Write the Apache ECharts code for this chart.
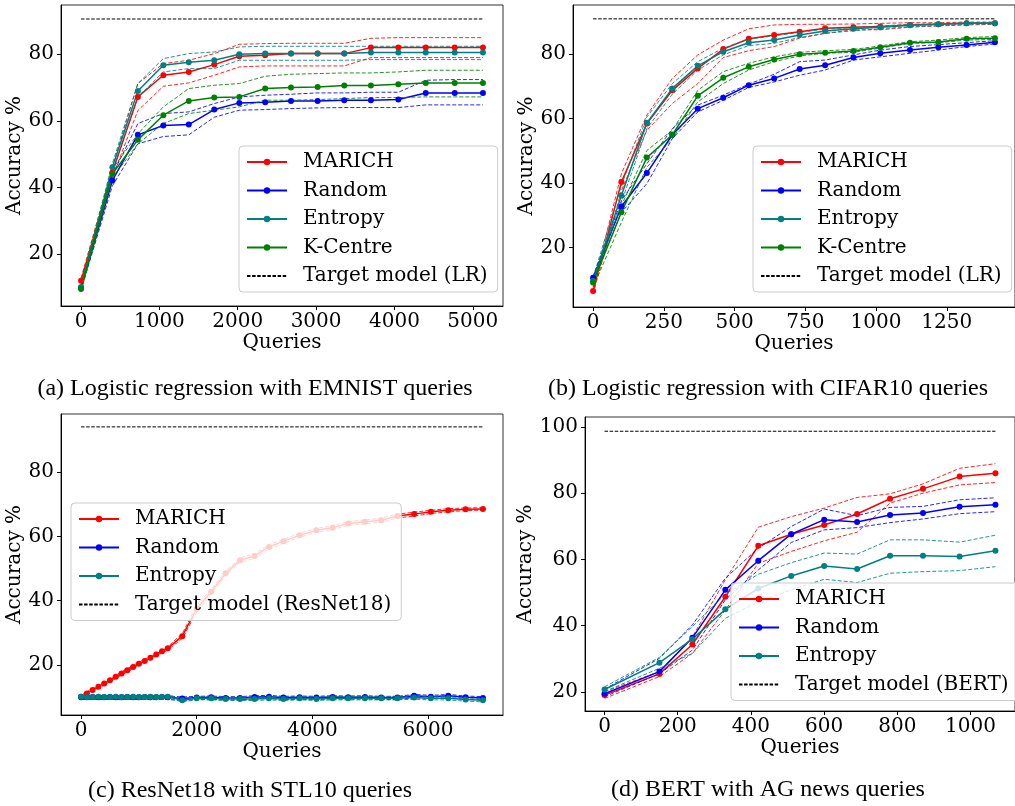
<!DOCTYPE html>
<html>
<head>
<meta charset="utf-8">
<script src="https://cdn.jsdelivr.net/npm/echarts@6/dist/echarts.min.js"></script>
<style>html,body{margin:0;padding:0;background:#fff}#chart{width:1015px;height:806px}</style>
</head>
<body>
<div id="chart"></div>
<script>
// ---------- (a) Logistic regression with EMNIST queries ----------
const aQueries = [0, 400, 725, 1050, 1375, 1700, 2020, 2350, 2680, 3020, 3360, 3700, 4050, 4400, 4770, 5130];
const aMarich    = [12.0, 44.6, 67.2, 73.7, 74.7, 76.9, 79.4, 79.7, 80.2, 80.2, 80.2, 82.0, 82.0, 82.0, 82.0, 82.0];
const aMarichHi  = [12.8, 46.0, 71.2, 77.2, 78.2, 80.2, 83.0, 83.2, 83.3, 83.3, 83.3, 84.8, 85.0, 85.0, 85.0, 85.0];
const aMarichLo  = [11.2, 43.0, 63.1, 70.4, 71.4, 73.7, 76.2, 76.5, 76.5, 76.5, 76.5, 79.0, 79.0, 79.0, 79.0, 79.0];
const aRandom    = [9.9, 42.1, 55.8, 58.6, 58.9, 63.4, 65.4, 65.6, 66.0, 66.0, 66.2, 66.2, 66.4, 68.4, 68.4, 68.4];
const aRandomHi  = [10.6, 43.8, 59.2, 62.2, 62.7, 65.2, 67.2, 67.7, 68.0, 68.4, 68.4, 68.6, 68.6, 72.2, 72.4, 72.4];
const aRandomLo  = [9.2, 40.5, 53.1, 55.3, 55.8, 61.1, 63.2, 63.4, 63.7, 63.9, 64.0, 64.0, 64.0, 64.8, 64.8, 64.8];
const aEntropy   = [10.1, 46.1, 69.0, 76.7, 77.6, 78.2, 80.0, 80.2, 80.2, 80.2, 80.2, 80.5, 80.5, 80.5, 80.5, 80.5];
const aEntropyHi = [10.9, 47.2, 71.2, 78.7, 80.2, 80.7, 82.2, 82.4, 82.4, 82.4, 82.4, 82.4, 82.4, 82.4, 82.4, 82.4];
const aEntropyLo = [9.3, 45.0, 67.2, 74.7, 75.7, 75.7, 78.2, 78.2, 78.2, 78.2, 78.2, 78.4, 78.4, 78.4, 78.4, 78.4];
const aKCentre   = [9.5, 44.1, 54.3, 61.7, 66.0, 67.0, 67.2, 69.7, 70.0, 70.2, 70.6, 70.6, 71.0, 71.4, 71.4, 71.4];
const aKCentreHi = [10.2, 45.5, 56.1, 64.2, 69.7, 70.7, 71.2, 73.4, 74.0, 74.2, 74.4, 74.4, 74.7, 75.2, 75.2, 75.2];
const aKCentreLo = [8.8, 42.8, 53.1, 59.2, 62.2, 63.2, 64.2, 66.2, 66.2, 66.4, 66.7, 67.0, 67.0, 67.2, 67.2, 67.2];
const aTarget = 90.6;
const aXTicks = [0, 1000, 2000, 3000, 4000, 5000];
const aYTicks = [20, 40, 60, 80];

// ---------- (b) Logistic regression with CIFAR10 queries ----------
const bQueries = [0, 100, 190, 280, 370, 460, 550, 640, 730, 820, 920, 1015, 1120, 1220, 1320, 1420];
const bMarich    = [6.5, 40.3, 58.5, 68.8, 75.6, 81.6, 84.8, 86.0, 87.0, 88.1, 88.4, 88.6, 89.1, 89.3, 89.6, 89.6];
const bMarichHi  = [7.5, 42.9, 61.1, 72.5, 79.8, 84.4, 87.9, 89.1, 89.3, 89.3, 89.4, 89.6, 89.8, 89.8, 90.0, 90.0];
const bMarichLo  = [5.5, 37.6, 56.4, 64.7, 70.9, 79.0, 81.1, 82.4, 85.0, 86.5, 87.6, 87.6, 88.4, 88.8, 89.1, 89.3];
const bRandom    = [10.6, 32.7, 43.1, 55.0, 63.1, 66.5, 70.4, 72.5, 75.4, 76.6, 79.0, 80.3, 81.3, 82.2, 82.9, 83.7];
const bRandomHi  = [11.0, 34.5, 46.0, 56.9, 64.2, 67.3, 70.7, 73.8, 77.7, 78.2, 79.8, 81.3, 82.4, 83.0, 83.6, 84.2];
const bRandomLo  = [9.6, 30.9, 39.8, 53.8, 62.1, 65.7, 69.7, 71.4, 73.5, 75.1, 78.2, 79.2, 80.3, 81.3, 82.4, 83.2];
const bEntropy   = [9.6, 36.1, 58.7, 69.4, 76.4, 80.8, 83.6, 84.4, 86.0, 87.2, 87.9, 88.4, 89.0, 89.3, 89.6, 89.6];
const bEntropyHi = [10.7, 39.2, 60.5, 70.9, 77.7, 81.9, 84.7, 85.7, 86.8, 87.8, 88.3, 88.8, 89.3, 89.5, 89.8, 89.9];
const bEntropyLo = [8.6, 34.0, 56.9, 67.6, 75.1, 79.8, 82.7, 83.4, 85.2, 86.5, 87.3, 87.9, 88.6, 88.9, 89.3, 89.4];
const bKCentre   = [9.1, 30.9, 47.9, 55.0, 67.1, 72.7, 76.1, 78.4, 80.0, 80.5, 81.0, 82.2, 83.6, 83.8, 84.8, 85.0];
const bKCentreHi = [10.1, 33.0, 50.1, 56.4, 68.8, 74.6, 77.2, 79.2, 80.6, 81.1, 81.5, 82.6, 83.9, 84.4, 85.2, 85.5];
const bKCentreLo = [7.7, 27.8, 44.9, 53.8, 65.2, 70.9, 75.1, 77.7, 79.5, 80.3, 80.6, 81.9, 83.4, 83.6, 84.4, 84.6];
const bTarget = 91.0;
const bXTicks = [0, 250, 500, 750, 1000, 1250];
const bYTicks = [20, 40, 60, 80];

// ---------- (c) ResNet18 with STL10 queries ----------
const cQueries = [0, 100, 200, 300, 400, 500, 600, 700, 800, 900, 1000, 1100, 1200, 1300, 1400, 1500,
  1750, 2000, 2250, 2500, 2750, 3000, 3250, 3500, 3780, 4070, 4350, 4620, 4910, 5190, 5470, 5760, 6050, 6350, 6650, 6950];
const cMarich   = [10.2, 11.2, 12.3, 13.3, 14.3, 15.3, 16.4, 17.4, 18.4, 19.4, 20.4, 21.3, 22.3, 23.3, 24.3, 25.2,
  29.0, 37.5, 42.8, 48.5, 52.6, 53.9, 56.7, 58.5, 60.3, 61.9, 62.7, 64.0, 64.5, 65.0, 66.3, 66.9, 67.6, 68.1, 68.4, 68.5];
const cMarichHi = [10.6, 11.7, 12.8, 13.8, 14.8, 15.8, 16.9, 17.9, 18.9, 19.9, 20.9, 21.8, 22.8, 23.8, 24.8, 25.7,
  29.8, 38.5, 43.6, 49.2, 53.3, 54.6, 57.4, 59.1, 60.9, 62.5, 63.3, 64.6, 65.1, 65.6, 66.9, 67.5, 68.1, 68.6, 68.8, 68.9];
const cMarichLo = [9.8, 10.8, 11.8, 12.8, 13.8, 14.8, 15.9, 16.9, 17.9, 18.9, 19.9, 20.8, 21.8, 22.8, 23.8, 24.7,
  28.3, 36.5, 42.0, 47.8, 51.9, 53.2, 56.0, 57.9, 59.7, 61.3, 62.1, 63.4, 63.9, 64.4, 65.7, 66.3, 67.1, 67.6, 68.0, 68.1];
const cRandom   = [10.0, 10.0, 10.1, 10.0, 10.0, 10.1, 10.0, 10.0, 10.1, 10.0, 10.0, 10.1, 10.0, 10.0, 10.1, 10.0,
  9.6, 9.9, 10.0, 9.8, 9.8, 10.1, 10.2, 9.9, 10.0, 9.9, 10.1, 10.0, 10.1, 9.9, 9.9, 10.5, 10.2, 10.5, 10.0, 9.8];
const cRandomHi = [10.4, 10.4, 10.5, 10.4, 10.4, 10.5, 10.4, 10.4, 10.5, 10.4, 10.4, 10.5, 10.4, 10.4, 10.5, 10.4,
  10.1, 10.3, 10.4, 10.2, 10.2, 10.5, 10.6, 10.3, 10.4, 10.3, 10.5, 10.4, 10.5, 10.3, 10.3, 10.9, 10.6, 10.9, 10.4, 10.2];
const cRandomLo = [9.3, 9.3, 9.4, 9.3, 9.3, 9.4, 9.3, 9.3, 9.4, 9.3, 9.3, 9.4, 9.3, 9.3, 9.4, 9.3,
  9.0, 9.3, 9.4, 9.2, 9.2, 9.5, 9.6, 9.3, 9.4, 9.3, 9.5, 9.4, 9.5, 9.3, 9.3, 9.9, 9.6, 9.9, 9.4, 9.2];
const cEntropy   = [10.2, 10.1, 10.1, 10.2, 10.1, 10.1, 10.2, 10.1, 10.1, 10.2, 10.1, 10.1, 10.2, 10.1, 10.1, 10.2,
  9.1, 9.7, 9.7, 9.5, 9.5, 9.5, 9.7, 9.5, 9.7, 9.5, 9.7, 9.7, 9.7, 9.7, 9.7, 9.9, 9.7, 9.7, 9.3, 9.1];
const cEntropyHi = [10.6, 10.5, 10.5, 10.6, 10.5, 10.5, 10.6, 10.5, 10.5, 10.6, 10.5, 10.5, 10.6, 10.5, 10.5, 10.7,
  9.6, 10.2, 10.2, 10.0, 10.0, 10.0, 10.2, 10.0, 10.2, 10.0, 10.2, 10.2, 10.2, 10.2, 10.2, 10.4, 10.2, 10.2, 9.8, 9.6];
const cEntropyLo = [9.8, 9.7, 9.7, 9.8, 9.7, 9.7, 9.8, 9.7, 9.7, 9.8, 9.7, 9.7, 9.8, 9.7, 9.7, 9.7,
  8.6, 9.2, 9.2, 9.0, 9.0, 9.0, 9.2, 9.0, 9.2, 9.0, 9.2, 9.2, 9.2, 9.2, 9.2, 9.4, 9.2, 9.2, 8.8, 8.6];
const cTarget = 94.0;
const cXTicks = [0, 2000, 4000, 6000];
const cYTicks = [20, 40, 60, 80];

// ---------- (d) BERT with AG news queries ----------
const dQueries = [0, 150, 240, 330, 420, 510, 600, 690, 780, 870, 970, 1068];
const dMarich    = [19.0, 25.4, 34.3, 48.7, 64.1, 67.6, 70.4, 73.7, 78.3, 81.3, 85.0, 86.0];
const dMarichHi  = [20.0, 26.1, 36.6, 53.8, 69.7, 72.9, 75.5, 78.7, 79.8, 82.8, 87.5, 88.9];
const dMarichLo  = [18.0, 24.6, 31.6, 44.7, 58.8, 62.4, 65.6, 68.2, 77.0, 80.0, 82.5, 83.2];
const dRandom    = [19.4, 26.1, 36.3, 50.8, 59.6, 67.6, 72.0, 71.3, 73.4, 74.0, 75.9, 76.5];
const dRandomHi  = [20.8, 30.1, 40.2, 54.3, 63.4, 69.9, 75.2, 73.2, 75.7, 76.0, 78.0, 78.6];
const dRandomLo  = [18.5, 25.5, 32.6, 47.8, 56.8, 65.1, 68.9, 69.6, 71.1, 72.2, 73.8, 74.4];
const dEntropy   = [20.7, 28.8, 35.9, 44.9, 51.2, 55.0, 58.0, 57.1, 61.1, 61.1, 60.9, 62.6];
const dEntropyHi = [21.5, 30.4, 39.7, 49.5, 55.5, 59.0, 61.9, 61.6, 65.9, 65.9, 65.2, 67.3];
const dEntropyLo = [20.1, 27.1, 31.6, 42.2, 47.2, 50.8, 54.0, 53.0, 55.8, 56.3, 56.6, 57.8];
const dTarget = 98.7;
const dXTicks = [0, 200, 400, 600, 800, 1000];
const dYTicks = [20, 40, 60, 80, 100];

// ---------- texts ----------
const captions = [
  '(a) Logistic regression with EMNIST queries',
  '(b) Logistic regression with CIFAR10 queries',
  '(c) ResNet18 with STL10 queries',
  '(d) BERT with AG news queries'
];
const targetNames = ['Target model (LR)', 'Target model (LR)', 'Target model (ResNet18)', 'Target model (BERT)'];
const xTitle = 'Queries';
const yTitle = 'Accuracy %';

// ---------- building ----------
const SERIF = "'DejaVu Serif', serif";
const CAPFONT = "'Liberation Serif', 'Times New Roman', serif";
const COLORS = { 'MARICH': '#ff0000', 'Random': '#0000ff', 'Entropy': '#008080', 'K-Centre': '#008000' };

const panels = [
  { q: aQueries, methods: [['MARICH', aMarich, aMarichLo, aMarichHi], ['Random', aRandom, aRandomLo, aRandomHi], ['Entropy', aEntropy, aEntropyLo, aEntropyHi], ['K-Centre', aKCentre, aKCentreLo, aKCentreHi]], target: aTarget, xt: aXTicks, yt: aYTicks,
    grid: { left: 61, top: 5, width: 442, height: 301 }, x: [-256, 5386], y: [4.4, 94.8], yGap: 36,
    legend: { left: 239, top: 146 } },
  { q: bQueries, methods: [['MARICH', bMarich, bMarichLo, bMarichHi], ['Random', bRandom, bRandomLo, bRandomHi], ['Entropy', bEntropy, bEntropyLo, bEntropyHi], ['K-Centre', bKCentre, bKCentreLo, bKCentreHi]], target: bTarget, xt: bXTicks, yt: bYTicks,
    grid: { left: 573, top: 5, width: 443, height: 302 }, x: [-71, 1491], y: [1.5, 95.3], yGap: 36,
    legend: { left: 753, top: 146 } },
  { q: cQueries, methods: [['MARICH', cMarich, cMarichLo, cMarichHi], ['Random', cRandom, cRandomLo, cRandomHi], ['Entropy', cEntropy, cEntropyLo, cEntropyHi]], target: cTarget, xt: cXTicks, yt: cYTicks,
    grid: { left: 61, top: 414, width: 442, height: 301 }, x: [-347, 7297], y: [4.5, 98.0], yGap: 36,
    legend: { left: 71, top: 503 } },
  { q: dQueries, methods: [['MARICH', dMarich, dMarichLo, dMarichHi], ['Random', dRandom, dRandomLo, dRandomHi], ['Entropy', dEntropy, dEntropyLo, dEntropyHi]], target: dTarget, xt: dXTicks, yt: dYTicks,
    grid: { left: 585, top: 417, width: 431, height: 294 }, x: [-53.4, 1121.4], y: [14.2, 103.0], yGap: 46,
    legend: { left: 731, top: 583 } }
];

const grids = [], xAxes = [], yAxes = [], series = [], legends = [], graphics = [];
const captionPos = [[255, 389], [768, 389], [250, 791], [768, 790]];
const plain = v => String(v);

panels.forEach((p, gi) => {
  grids.push(Object.assign({ show: true, borderColor: '#333', borderWidth: 1, containLabel: false }, p.grid));
  const axisCommon = {
    axisLine: { show: true, onZero: false, lineStyle: { color: '#000', width: 1 } },
    axisTick: { show: true, length: 4, lineStyle: { color: '#000', width: 1 } },
    axisLabel: { color: '#000', fontFamily: SERIF, fontSize: 20, formatter: plain },
    splitLine: { show: false },
    nameTextStyle: { color: '#000', fontFamily: SERIF, fontSize: 20 }
  };
  xAxes.push(Object.assign({}, axisCommon, {
    type: 'value', gridIndex: gi, min: p.x[0], max: p.x[1],
    name: xTitle, nameLocation: 'middle', nameGap: 27,
    axisTick: Object.assign({}, axisCommon.axisTick, { customValues: p.xt }),
    axisLabel: Object.assign({}, axisCommon.axisLabel, { customValues: p.xt, margin: 6 })
  }));
  yAxes.push(Object.assign({}, axisCommon, {
    type: 'value', gridIndex: gi, min: p.y[0], max: p.y[1],
    name: yTitle, nameLocation: 'middle', nameGap: p.yGap,
    axisTick: Object.assign({}, axisCommon.axisTick, { customValues: p.yt }),
    axisLabel: Object.assign({}, axisCommon.axisLabel, { customValues: p.yt, margin: 7 })
  }));
  const legendData = [];
  p.methods.forEach(([name, mean, lo, hi]) => {
    const c = COLORS[name];
    const pts = arr => p.q.map((x, i) => [x, arr[i]]);
    legendData.push(name);
    series.push({
      name: name, type: 'line', xAxisIndex: gi, yAxisIndex: gi, data: pts(mean),
      symbol: 'circle', symbolSize: 6, lineStyle: { color: c, width: 1.5 }, itemStyle: { color: c },
      animation: false, silent: true, z: 2
    });
    [lo, hi].forEach((band, bi) => series.push({
      name: name + (bi ? ' upper ' : ' lower ') + gi, type: 'line', xAxisIndex: gi, yAxisIndex: gi, data: pts(band),
      symbol: 'none', lineStyle: { color: c, width: 1, type: [4, 2], opacity: 0.85 },
      animation: false, silent: true, z: 2
    }));
  });
  const tName = targetNames[gi];
  legendData.push({ name: tName, itemStyle: { opacity: 0 } });
  series.push({
    name: tName, type: 'line', xAxisIndex: gi, yAxisIndex: gi,
    data: [[p.q[0], p.target], [p.q[p.q.length - 1], p.target]],
    symbol: 'none', lineStyle: { color: '#000', width: 1, type: [3.5, 1.6] }, itemStyle: { color: '#000' },
    animation: false, silent: true, z: 2
  });
  legends.push({
    orient: 'vertical', left: p.legend.left, top: p.legend.top, data: legendData,
    itemWidth: 40, itemHeight: 8, itemGap: 8.5, padding: [6, 10, 6, 7],
    backgroundColor: 'rgba(255,255,255,0.8)', borderColor: '#cccccc', borderWidth: 1, borderRadius: 4,
    textStyle: { fontFamily: SERIF, fontSize: 20, color: '#000', padding: [0, 0, 0, 11] },
    selectedMode: false, z: 6
  });
  graphics.push({
    type: 'text', x: captionPos[gi][0], y: captionPos[gi][1], silent: true,
    style: { text: captions[gi], font: '24px ' + CAPFONT, fill: '#000', textAlign: 'center', textVerticalAlign: 'middle' }
  });
});

const chart = echarts.init(document.getElementById('chart'), null, { renderer: 'canvas' });
chart.setOption({
  animation: false,
  backgroundColor: '#ffffff',
  grid: grids, xAxis: xAxes, yAxis: yAxes, series: series, legend: legends, graphic: graphics
});
</script>
</body>
</html>
